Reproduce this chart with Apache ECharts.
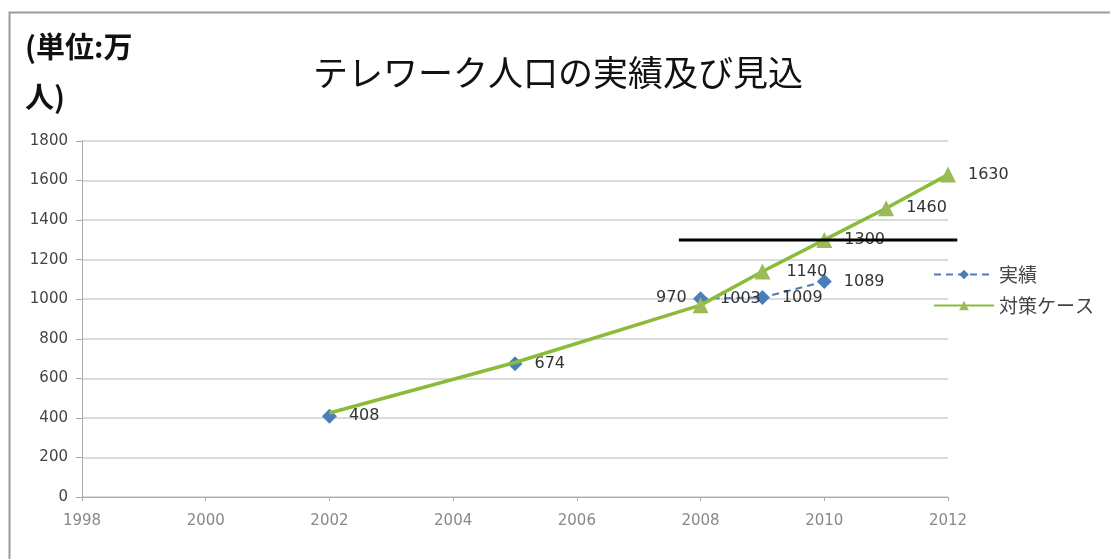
<!DOCTYPE html>
<html>
<head>
<meta charset="utf-8">
<script src="https://cdn.jsdelivr.net/npm/echarts@6/dist/echarts.min.js"></script>
<style>
html,body{margin:0;padding:0;background:#fff;}
#c{width:1110px;height:559px;}
</style>
</head>
<body>
<div id="c"></div>
<script>
const titleText = 'テレワーク人口の実績及び見込';
const unitText = '(単位:万\n人)';
const xTicks = [1998, 2000, 2002, 2004, 2006, 2008, 2010, 2012];
const yTicks = [0, 200, 400, 600, 800, 1000, 1200, 1400, 1600, 1800];

// 実績: surveyed years only (blank years in between are gaps in the source table)
const actualName = '実績';
const actualYears = [2002, 2005, 2008, 2009, 2010];
const actualValues = [408, 674, 1003, 1009, 1089];

const planName = '対策ケース';
const planYears = [2002, 2005, 2008, 2009, 2010, 2011, 2012];
const planValues = [425, 680, 970, 1140, 1300, 1460, 1630];
const planMarkerFrom = 2008;

const refLineValue = 1300;
const refLineFrom = 2007.65;
const refLineTo = 2012.15;

const font = '"DejaVu Sans", sans-serif';
const cjk = '"Noto Sans CJK JP", sans-serif';

// build yearly rows; years without a survey value stay empty (null) so the dashed line breaks there
const actualData = [];
for (let y = actualYears[0]; y <= actualYears[actualYears.length - 1]; y++) {
  const i = actualYears.indexOf(y);
  if (i < 0) {
    actualData.push([y, null]);
  } else {
    actualData.push({ value: [y, actualValues[i]], label: { show: true, position: 'right', distance: 12 } });
  }
}

const planData = planYears.map((y, i) => {
  const shown = y >= planMarkerFrom;
  const d = { value: [y, planValues[i]] };
  if (!shown) {
    d.symbol = 'none';
    d.label = { show: false };
  } else if (y === 2008) {
    d.label = { show: true, position: 'left', distance: 2, offset: [-4, -7] };
  } else if (y === 2009) {
    d.label = { show: true, position: 'right', distance: 16 };
  } else {
    d.label = { show: true, position: 'right', distance: 12 };
  }
  return d;
});

const chart = echarts.init(document.getElementById('c'));
chart.setOption({
  animation: false,
  backgroundColor: '#fff',
  graphic: [
    { id: 'frame', type: 'rect', left: 7, top: 10, shape: { width: 1110, height: 560 },
      style: { fill: 'none', stroke: '#9a9a9a', lineWidth: 2 }, z: -1 },
    { id: 'unit', type: 'text', left: 25, top: 22,
      style: { text: unitText, font: 'bold 29px ' + cjk, fill: '#111', lineHeight: 50 } }
  ],
  title: {
    text: titleText, left: 553, top: 50, textAlign: 'center',
    textStyle: { fontFamily: cjk, fontSize: 35, fontWeight: 'normal', color: '#111' }
  },
  legend: {
    orient: 'vertical', left: 928, top: 260, itemWidth: 60, itemHeight: 12, itemGap: 12,
    textStyle: { fontFamily: cjk, fontSize: 19, color: '#444' },
    data: [actualName, planName]
  },
  grid: { left: 82, right: 162, top: 141, bottom: 62 },
  xAxis: {
    type: 'value', min: xTicks[0], max: xTicks[xTicks.length - 1], interval: 2,
    splitLine: { show: false },
    axisLine: { lineStyle: { color: '#aaa' } },
    axisTick: { show: true, length: 4, lineStyle: { color: '#aaa' } },
    axisLabel: { color: '#888', fontFamily: font, fontSize: 15, margin: 17, formatter: v => String(v) }
  },
  yAxis: {
    type: 'value', min: yTicks[0], max: yTicks[yTicks.length - 1], interval: 200,
    splitLine: { lineStyle: { color: '#cfcfcf', width: 1.5 } },
    axisLine: { show: true, lineStyle: { color: '#aaa' } },
    axisTick: { show: true, length: 6, lineStyle: { color: '#aaa' } },
    axisLabel: { color: '#444', fontFamily: font, fontSize: 15, margin: 14, formatter: v => String(v) }
  },
  series: [
    {
      name: actualName, type: 'line', z: 2,
      data: actualData, connectNulls: false,
      symbol: 'diamond', symbolSize: 15,
      itemStyle: { color: '#4a7ebb' },
      lineStyle: { color: '#4a7ebb', width: 2, type: [7, 5] },
      label: { color: '#333', fontFamily: font, fontSize: 16 }
    },
    {
      name: planName, type: 'line', z: 3,
      data: planData,
      symbol: 'triangle', symbolSize: 16,
      itemStyle: { color: '#9bbb59' },
      lineStyle: { color: '#8cbb3a', width: 3.5 },
      label: { color: '#333', fontFamily: font, fontSize: 16 }
    }
  ]
});

const p1 = chart.convertToPixel({ gridIndex: 0 }, [refLineFrom, refLineValue]);
const p2 = chart.convertToPixel({ gridIndex: 0 }, [refLineTo, refLineValue]);
chart.setOption({
  graphic: [
    { id: 'refline', type: 'line', z: 100,
      shape: { x1: p1[0], y1: p1[1], x2: p2[0], y2: p2[1] },
      style: { stroke: '#000', lineWidth: 3 } }
  ]
});
</script>
</body>
</html>
